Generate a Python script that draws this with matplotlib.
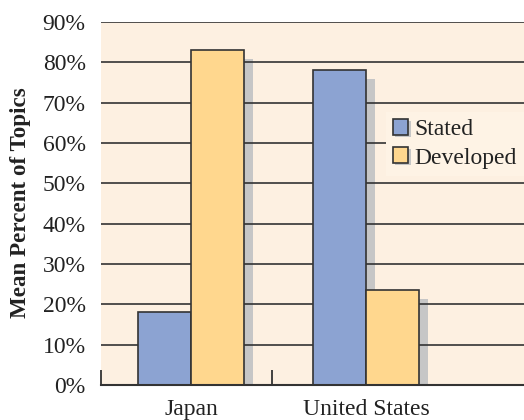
import matplotlib
matplotlib.use("Agg")
import numpy as np
import matplotlib.pyplot as plt
import matplotlib.transforms as mtransforms
import matplotlib.patheffects as pe
from matplotlib.patches import Patch

# ─── data ───────────────────────────────────────────────────────────────────
countries = ["Japan", "United States"]
stated    = [18, 78]
developed = [83, 23.5]
series    = ["Stated", "Developed"]
yticks    = [0, 10, 20, 30, 40, 50, 60, 70, 80, 90]

# ─── style ──────────────────────────────────────────────────────────────────
BLUE   = "#8ca3d2"
YELLOW = "#ffd78e"
SHADOW = "#c6c6c6"
BG     = "#fdf0e1"
EDGE   = "#333333"
TXT    = "#222222"
FS     = 17

plt.rcParams["font.family"] = ["Liberation Serif", "DejaVu Serif"]

fig = plt.figure(figsize=(5.24, 4.20), dpi=100)
ax = fig.add_axes([101/524, 35/420, 423/524, 363/420])
ax.set_facecolor(BG)

x = np.arange(len(countries))
w = 0.305

# drop shadow: same bars shifted right/down in screen pixels
shadow_tf = mtransforms.offset_copy(ax.transData, fig=fig, x=9, y=-9, units="dots")
for off, vals in ((-w/2, stated), (w/2, developed)):
    ax.bar(x + off, vals, w, color=SHADOW, linewidth=0,
           transform=shadow_tf, zorder=1)

for yv in yticks[1:]:
    ax.axhline(yv, color=EDGE, lw=1.2, zorder=1.5)

ax.bar(x - w/2, stated, w, color=BLUE, edgecolor=EDGE, lw=1.2, zorder=2)
ax.bar(x + w/2, developed, w, color=YELLOW, edgecolor=EDGE, lw=1.2, zorder=2)

ax.set_xlim(-0.514, 1.903)
ax.set_ylim(0, 90)

for s in ("left", "right", "top"):
    ax.spines[s].set_visible(False)
ax.spines["bottom"].set_color(EDGE)
ax.spines["bottom"].set_linewidth(1.5)
ax.spines["bottom"].set_zorder(3)

ax.set_yticks(yticks)
ax.set_yticklabels([f"{v}%" for v in yticks], fontsize=FS, color=TXT)
ax.tick_params(axis="y", length=0, pad=11)

ax.set_xticks(x)
ax.set_xticklabels(countries, fontsize=FS, color=TXT)
ax.tick_params(axis="x", which="major", length=0, pad=10)
ax.set_xticks([-0.514, 0.463], minor=True)
ax.tick_params(axis="x", which="minor", direction="in", length=11,
               width=1.3, color=EDGE)

fig.text(21/524, 0.518, "Mean Percent of Topics", rotation=90,
         ha="center", va="center", fontsize=16.6, fontweight="bold",
         color=TXT)

shadow_fx = [pe.SimplePatchShadow(offset=(1.5, -1.5), shadow_rgbFace=SHADOW,
                                  alpha=1.0), pe.Normal()]
handles = [Patch(facecolor=BLUE, edgecolor=EDGE, lw=1.2, path_effects=shadow_fx),
           Patch(facecolor=YELLOW, edgecolor=EDGE, lw=1.2, path_effects=shadow_fx)]
leg = ax.legend(handles, series, loc="upper left",
                bbox_to_anchor=(386/524, 1 - 112/420),
                bbox_transform=fig.transFigure, fontsize=FS,
                frameon=True, fancybox=False, framealpha=1,
                handlelength=0.65, handleheight=0.65, handletextpad=0.25,
                labelspacing=0.3, borderpad=0.3, borderaxespad=0)
leg.get_frame().set_facecolor("#fef3e5")
leg.get_frame().set_edgecolor("none")
leg.set_zorder(4)
for t in leg.get_texts():
    t.set_color(TXT)

fig.savefig("out.png", dpi=100, facecolor="white")
